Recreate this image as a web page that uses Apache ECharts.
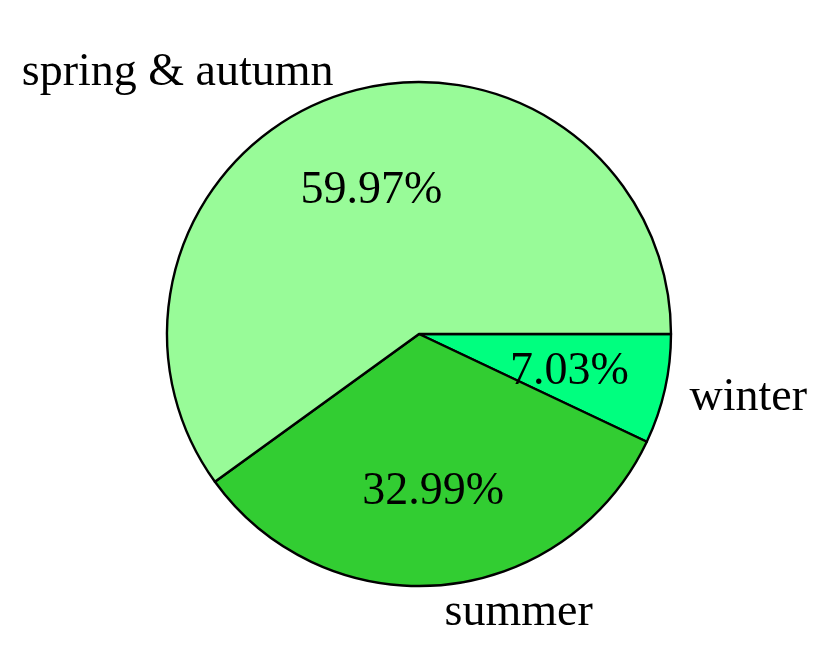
<!DOCTYPE html>
<html>
<head>
<meta charset="utf-8">
<title>seasons pie</title>
<script src="https://cdn.jsdelivr.net/npm/echarts@6/dist/echarts.min.js"></script>
<style>
    html, body { margin: 0; padding: 0; background: #fff; }
    #main { width: 829px; height: 671px; }
</style>
</head>
<body>
<div id="main"></div>
<script>
// 数据（顺时针，从正东方向开始）
var seasons = ['winter', 'summer', 'spring & autumn'];
var shares = [7.03, 32.99, 59.97];
var colors = ['#00FF7F', '#32CD32', '#98FB98'];

var fontFamily = "'Liberation Serif', 'Times New Roman', serif";
var R = 252;          // 饼图半径
var center = [419, 334];

var pieData = [];
for (var i = 0; i < seasons.length; i++) {
    pieData.push({name: seasons[i], value: shares[i], itemStyle: {color: colors[i]}});
}

var chart = echarts.init(document.getElementById('main'));

var option = {
    animation: false,
    backgroundColor: '#fff',
    series: [
        {
            // 扇区 + 外部名称
            id: 'pie',
            type: 'pie',
            silent: true,
            center: center,
            radius: [0, R],
            startAngle: 0,
            clockwise: true,
            avoidLabelOverlap: false,
            itemStyle: {borderColor: '#000', borderWidth: 2.4},
            label: {
                show: true,
                position: 'outside',
                formatter: '{b}',
                color: '#000',
                fontFamily: fontFamily,
                fontSize: 46,
                distanceToLabelLine: 0,
                offset: [0, 3]
            },
            labelLine: {show: false, length: R * 0.1, length2: 0},
            data: pieData
        },
        {
            // 透明的辅助饼图，用来把百分比放在 0.6R 处
            id: 'pct',
            type: 'pie',
            silent: true,
            center: center,
            radius: [0, R * 1.2],
            startAngle: 0,
            clockwise: true,
            itemStyle: {color: 'rgba(0,0,0,0)', borderWidth: 0},
            label: {
                show: true,
                position: 'inside',
                formatter: function (p) {
                    return p.value.toFixed(2) + '%';
                },
                color: '#000',
                fontFamily: fontFamily,
                fontSize: 46,
                offset: [0, 4]
            },
            labelLine: {show: false},
            data: pieData.map(function (d) {
                return {name: d.name, value: d.value};
            })
        }
    ]
};
chart.setOption(option);
</script>
</body>
</html>
